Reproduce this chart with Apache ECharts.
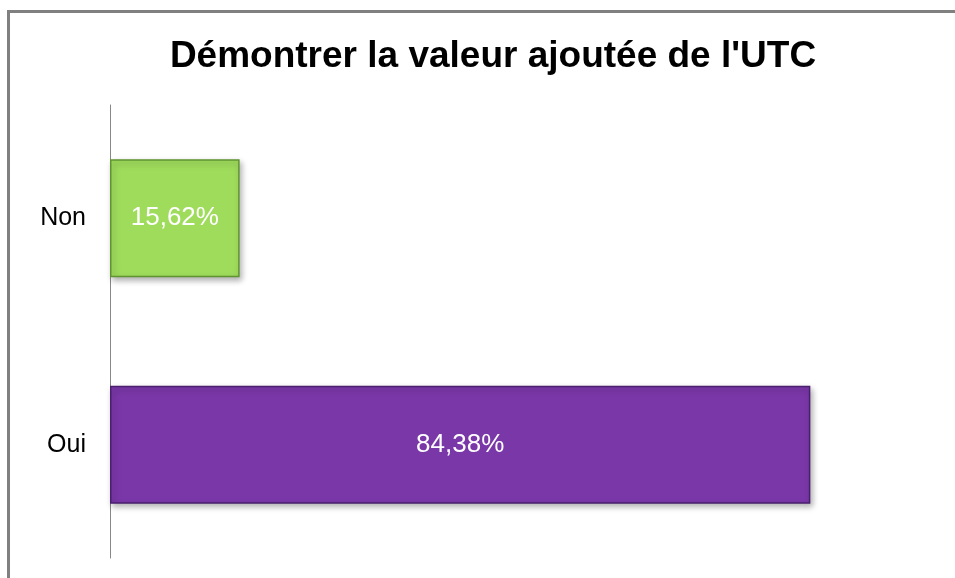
<!DOCTYPE html>
<html style="height: 100%">
   <head>
       <meta charset="utf-8">
       <script src="https://cdn.jsdelivr.net/npm/echarts@6/dist/echarts.min.js"></script>
       <title>Démontrer la valeur ajoutée de l'UTC</title>
   </head>
   <body style="height: 100%; margin: 0; background: #fff">
       <div id="container" style="width: 955px; height: 578px"></div>
       <script type="text/javascript">

let categories = ['Non', 'Oui']
let values = [15.62, 84.38]
let colors = ['#9fdc5c', '#7a37a8']
let borders = ['#5f9430', '#4a1f6e']

let dom = document.getElementById("container")
let chart = echarts.init(dom)

let barData = values.map((v, i) => ({
    value: v,
    itemStyle: {
        color: colors[i],
        borderColor: borders[i],
        borderWidth: 1.5,
        shadowColor: 'rgba(0,0,0,0.3)',
        shadowBlur: 6,
        shadowOffsetX: 2,
        shadowOffsetY: 3
    }
}))

chart.setOption({
    animation: false,
    title: {
        text: "Démontrer la valeur ajoutée de l'UTC",
        left: 488,
        textAlign: 'center',
        top: 33,
        textStyle: {
            fontFamily: 'Liberation Sans, Arial',
            fontSize: 37,
            fontWeight: 'bold',
            color: '#000'
        }
    },
    graphic: [{
        type: 'rect',
        shape: { x: 8.5, y: 11.5, width: 1000, height: 1000 },
        style: { fill: 'none', stroke: '#808080', lineWidth: 3 },
        silent: true
    }],
    grid: { left: 110, right: 15, top: 105, bottom: 20 },
    xAxis: {
        type: 'value',
        min: 0,
        max: 100,
        show: false
    },
    yAxis: {
        type: 'category',
        data: categories,
        inverse: true,
        axisLine: { lineStyle: { color: '#888', width: 1 } },
        axisTick: { show: false },
        axisLabel: {
            fontFamily: 'Liberation Sans, Arial',
            fontSize: 25,
            color: '#000',
            margin: 24
        }
    },
    series: [{
        type: 'bar',
        data: barData,
        barWidth: 118,
        label: {
            show: true,
            position: 'inside',
            color: '#fff',
            fontFamily: 'Liberation Sans, Arial',
            fontSize: 26,
            formatter: p => p.value.toFixed(2).replace('.', ',') + '%'
        }
    }]
})

       </script>
   </body>
</html>
